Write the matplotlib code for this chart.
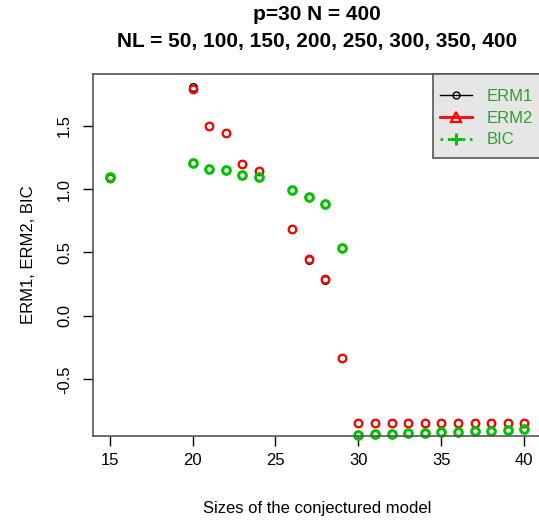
import numpy as np
import matplotlib
matplotlib.use("Agg")
import matplotlib.pyplot as plt
from matplotlib.lines import Line2D
from matplotlib.patches import Rectangle

plt.rcParams['font.family'] = ['Liberation Sans', 'DejaVu Sans']

sizes = [15, 20, 21, 22, 23, 24, 26, 27, 28, 29, 30, 31, 32, 33, 34, 35, 36, 37, 38, 39, 40]
erm1 = [1.09, 1.80, 1.50, 1.44, 1.195, 1.14, 0.685, 0.44, 0.28, -0.335,
        -0.84, -0.84, -0.84, -0.84, -0.84, -0.84, -0.84, -0.84, -0.84, -0.84, -0.84]
erm2 = [1.09, 1.79, 1.50, 1.44, 1.195, 1.14, 0.685, 0.45, 0.29, -0.33,
        -0.84, -0.84, -0.84, -0.84, -0.84, -0.84, -0.84, -0.84, -0.84, -0.84, -0.84]
bic = [1.094, 1.205, 1.157, 1.15, 1.11, 1.094, 0.99, 0.937, 0.88, 0.535,
       -0.937, -0.932, -0.927, -0.924, -0.919, -0.916, -0.913, -0.908, -0.903, -0.900, -0.892]

W, H = 539, 520
fig = plt.figure(figsize=(W / 100, H / 100), dpi=100)
ax = fig.add_axes([0.1725, 0.1615, 0.831, 0.6962])

ax.plot(sizes, erm1, 'o', mfc='none', mec='black', ms=5.5, mew=1.0, clip_on=False)
ax.plot(sizes, erm2, 'o', mfc='none', mec='red', ms=5.5, mew=1.6, clip_on=False)
ax.plot(sizes, bic, 'o', mfc='none', mec='#00c000', ms=5.5, mew=2.2, clip_on=False)

ax.set_xlim(14, 41)
ax.set_ylim(-0.946, 1.906)
ax.set_xticks([15, 20, 25, 30, 35, 40])
ax.set_yticks([-0.5, 0.0, 0.5, 1.0, 1.5])
ax.set_yticklabels(['-0.5', '0.0', '0.5', '1.0', '1.5'], rotation=90, va='center')
ax.tick_params(direction='out', length=7, width=1, labelsize=12, colors='black')
ax.tick_params(axis='x', pad=5)
ax.tick_params(axis='y', pad=8)
for s in ax.spines.values():
    s.set_color('#555555')
    s.set_linewidth(1.2)

ax.set_xlabel('Sizes of the conjectured model', fontsize=12, labelpad=24)
ax.set_ylabel('ERM1, ERM2, BIC', fontsize=12, labelpad=15)
fig.text(317 / W, 1 - 15 / H, 'p=30 N = 400', ha='center', va='center',
         fontsize=15, fontweight='bold')
fig.text(317 / W, 1 - 42 / H, 'NL = 50, 100, 150, 200, 250, 300, 350, 400',
         ha='center', va='center', fontsize=15, fontweight='bold')

# legend box
fig.patches.append(Rectangle((433 / W, 1 - 158 / H), 112 / W, 84 / H,
                             transform=fig.transFigure, facecolor='#e6e6e6',
                             edgecolor='#555555', lw=1.2, zorder=2))
handles = [
    Line2D([], [], color='black', lw=1, marker='o', mfc='none', mec='black', ms=5),
    Line2D([], [], color='red', lw=2, marker='^', mfc='none', mec='red', ms=7, mew=1.6),
    Line2D([], [], color='#00c000', lw=2, ls=':', marker='+', ms=8, mew=2.2),
]
leg = fig.legend(handles, ['ERM1', 'ERM2', 'BIC'], loc='upper left',
                 bbox_to_anchor=(440 / W, 1 - 89 / H), borderaxespad=0,
                 frameon=False, fontsize=12, handlelength=1.9, borderpad=0,
                 labelspacing=0.4, handletextpad=0.9, labelcolor='#2ca02c')
leg.set_zorder(3)

fig.savefig('out.png', dpi=100)
